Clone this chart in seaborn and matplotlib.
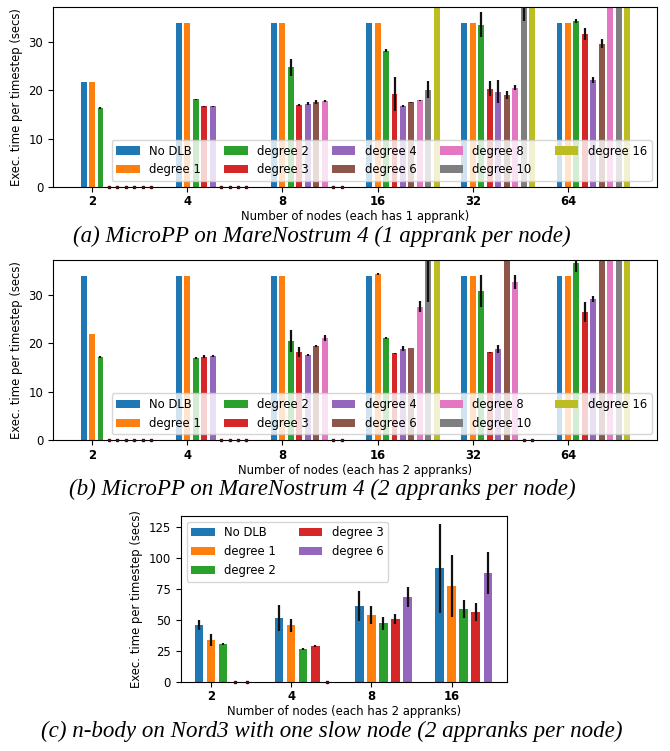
import numpy as np
import pandas as pd
import matplotlib
matplotlib.use("Agg")
import matplotlib.pyplot as plt
import seaborn as sns

# ---------------- data ----------------
hues_ab = ['No DLB', 'degree 1', 'degree 2', 'degree 3', 'degree 4',
           'degree 6', 'degree 8', 'degree 10', 'degree 16']
nodes_ab = ['2', '4', '8', '16', '32', '64']

# (a) MicroPP, 1 apprank per node
a_vals = {
    'No DLB':    [21.6, 33.9, 33.9, 33.9, 33.9, 33.9],
    'degree 1':  [21.6, 33.9, 33.9, 33.9, 33.9, 33.9],
    'degree 2':  [16.4, 18.1, 24.7, 28.1, 33.5, 34.3],
    'degree 3':  [0.0, 16.7, 16.9, 19.2, 20.3, 31.6],
    'degree 4':  [0.0, 16.7, 17.2, 16.8, 19.7, 22.1],
    'degree 6':  [0.0, 0.0, 17.5, 17.45, 19.0, 29.6],
    'degree 8':  [0.0, 0.0, 17.7, 17.9, 20.5, 40.0],
    'degree 10': [0.0, 0.0, 0.0, 20.1, 37.8, 40.0],
    'degree 16': [0.0, 0.0, 0.0, 40.0, 40.0, 40.0],
}
a_errs = {
    'No DLB':    [0, 0, 0, 0, 0, 0],
    'degree 1':  [0, 0, 0, 0, 0, 0],
    'degree 2':  [0.2, 0.1, 1.8, 0.3, 2.6, 0.4],
    'degree 3':  [0, 0.1, 0.15, 3.6, 1.6, 1.2],
    'degree 4':  [0, 0.1, 0.3, 0.2, 2.3, 0.6],
    'degree 6':  [0, 0, 0.4, 0.1, 0.8, 1.0],
    'degree 8':  [0, 0, 0.2, 0.15, 0.5, 0],
    'degree 10': [0, 0, 0, 1.7, 3.5, 0],
    'degree 16': [0, 0, 0, 0, 0, 0],
}

# (b) MicroPP, 2 appranks per node
b_vals = {
    'No DLB':    [33.9, 33.9, 33.9, 34.0, 33.9, 33.9],
    'degree 1':  [22.0, 33.9, 33.9, 34.3, 33.9, 33.9],
    'degree 2':  [17.2, 17.0, 20.5, 21.1, 30.8, 36.6],
    'degree 3':  [0.0, 17.2, 18.2, 18.0, 18.2, 26.5],
    'degree 4':  [0.0, 17.4, 17.6, 18.9, 18.9, 29.2],
    'degree 6':  [0.0, 0.0, 19.5, 19.0, 40.0, 40.0],
    'degree 8':  [0.0, 0.0, 21.1, 27.6, 32.7, 40.0],
    'degree 10': [0.0, 0.0, 0.0, 40.0, 0.0, 40.0],
    'degree 16': [0.0, 0.0, 0.0, 40.0, 0.0, 40.0],
}
b_errs = {
    'No DLB':    [0, 0, 0, 0, 0, 0],
    'degree 1':  [0, 0, 0, 0.15, 0, 0],
    'degree 2':  [0.15, 0.2, 2.3, 0.3, 3.4, 1.8],
    'degree 3':  [0, 0.3, 1.0, 0.1, 0.1, 2.0],
    'degree 4':  [0, 0.15, 0.15, 0.5, 0.8, 0.6],
    'degree 6':  [0, 0, 0.15, 0.05, 0, 0],
    'degree 8':  [0, 0, 0.7, 1.2, 1.4, 0],
    'degree 10': [0, 0, 0, 11.5, 0, 0],
    'degree 16': [0, 0, 0, 0, 0, 0],
}

# (c) n-body on Nord3
hues_c = ['No DLB', 'degree 1', 'degree 2', 'degree 3', 'degree 6']
nodes_c = ['2', '4', '8', '16']
c_vals = {
    'No DLB':   [45.7, 51.6, 61.0, 91.4],
    'degree 1': [33.6, 45.4, 53.8, 77.2],
    'degree 2': [30.4, 26.4, 47.3, 58.6],
    'degree 3': [0.0, 28.8, 50.8, 56.2],
    'degree 6': [0.0, 0.0, 68.3, 87.7],
}
c_errs = {
    'No DLB':   [4.3, 10.4, 11.9, 36.0],
    'degree 1': [4.5, 5.3, 7.2, 25.2],
    'degree 2': [0.5, 0.6, 5.3, 7.0],
    'degree 3': [0, 0.6, 3.9, 7.0],
    'degree 6': [0, 0, 8.0, 16.6],
}

tab10 = ['#1f77b4', '#ff7f0e', '#2ca02c', '#d62728', '#9467bd',
         '#8c564b', '#e377c2', '#7f7f7f', '#bcbd22']

FS = 8.4
plt.rcParams['font.family'] = ['DejaVu Sans']
plt.rcParams['font.size'] = FS


def make_df(hues, nodes, vals, errs, slot):
    rows = []
    for j, h in enumerate(hues):
        for i, n in enumerate(nodes):
            rows.append(dict(pos=i + (j - 1) * slot, hue=h,
                             value=vals[h][i], err=errs[h][i]))
    return pd.DataFrame(rows)


def panel(ax, hues, nodes, vals, errs, slot, ylim, yticks, xlim,
          xlabel, loc, ncol):
    df = make_df(hues, nodes, vals, errs, slot)
    sns.barplot(data=df, x='pos', y='value', hue='hue', hue_order=hues,
                palette=tab10[:len(hues)], native_scale=True, dodge=False,
                width=0.7, errorbar=None, ax=ax, saturation=1)
    e = df[df['err'] > 0]
    ax.vlines(e['pos'], e['value'] - e['err'], e['value'] + e['err'],
              colors='#111111', linewidth=1.6, zorder=3)
    z = df[df['value'] == 0]
    ax.plot(z['pos'], z['value'], ls='none', marker='s', ms=1.6,
            color='#3a1010', zorder=3, clip_on=False)
    ax.set_ylim(*ylim)
    ax.set_yticks(yticks)
    ax.set_xlim(*xlim)
    ax.set_xticks(range(len(nodes)))
    ax.set_xticklabels(nodes, fontweight='bold')
    ax.tick_params(axis='x', pad=2.5)
    ax.set_xlabel(xlabel, labelpad=1.5)
    ax.set_ylabel('Exec. time per timestep (secs)')
    sns.move_legend(ax, loc, ncol=ncol, title=None, frameon=True,
                    fontsize=FS)


fig = plt.figure(figsize=(6.7, 7.51), dpi=100)
ax_a = fig.add_axes([0.0791, 0.751, 0.9022, 0.2400])
ax_b = fig.add_axes([0.0791, 0.4137, 0.9022, 0.2401])
ax_c = fig.add_axes([0.2697, 0.0923, 0.4870, 0.2210])

panel(ax_a, hues_ab, nodes_ab, a_vals, a_errs, 0.8 / 9, (0, 37.2),
      [0, 10, 20, 30], (-0.41, 5.94),
      'Number of nodes (each has 1 apprank)', 'lower right', 5)
panel(ax_b, hues_ab, nodes_ab, b_vals, b_errs, 0.8 / 9, (0, 37.2),
      [0, 10, 20, 30], (-0.41, 5.94),
      'Number of nodes (each has 2 appranks)', 'lower right', 5)
panel(ax_c, hues_c, nodes_c, c_vals, c_errs, 0.15, (0, 134),
      [0, 25, 50, 75, 100, 125], (-0.378, 3.69),
      'Number of nodes (each has 2 appranks)', 'upper left', 2)

cap = dict(family=['Liberation Serif', 'DejaVu Serif'], style='italic',
           fontsize=16.6, ha='center', va='center')
fig.text(0.481, 1 - 236 / 751, '(a) MicroPP on MareNostrum 4 (1 apprank per node)', **cap)
fig.text(0.481, 1 - 489 / 751, '(b) MicroPP on MareNostrum 4 (2 appranks per node)', **cap)
fig.text(0.495, 1 - 731 / 751, '(c) n-body on Nord3 with one slow node (2 appranks per node)', **cap)

fig.savefig('out.png', dpi=100)
